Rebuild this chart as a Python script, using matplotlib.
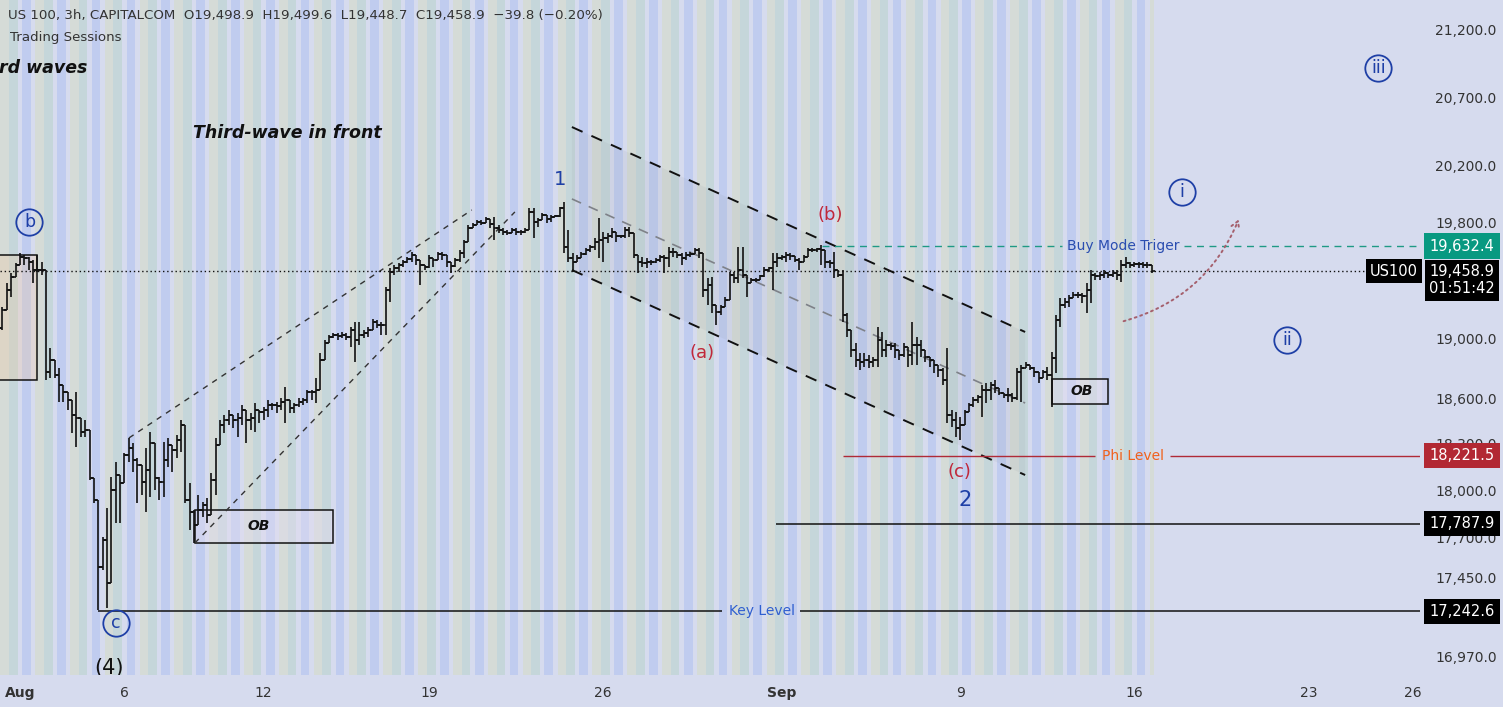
import numpy as np
import matplotlib.pyplot as plt
from matplotlib.patches import Rectangle, Polygon
from matplotlib.ticker import NullLocator

plt.rcParams['font.family'] = ['DejaVu Sans']

# --- US100 3h bars ---
highs = [19137, 19212, 19376, 19445, 19515, 19584, 19570, 19556, 19536, 19570,
         19522, 19103, 18934, 18853, 18800, 18686, 18640, 18587, 18640, 18468,
         18455, 18273, 18079, 17938, 17704, 17887, 18085, 18182, 18066, 18240,
         18338, 18305, 18207, 18150, 18273, 18377, 18279, 18085, 18312, 18338,
         18279, 18357, 18455, 18423, 18047, 17874, 17970, 17925, 17951, 18111,
         18338, 18455, 18488, 18521, 18468, 18501, 18554, 18488, 18501, 18567,
         18521, 18541, 18587, 18567, 18574, 18600, 18673, 18587, 18567, 18600,
         18600, 18653, 18653, 18733, 18900, 18988, 19022, 19035, 19035, 19042,
         19035, 19076, 19110, 19110, 19055, 19076, 19130, 19123, 19110, 19349,
         19480, 19501, 19515, 19536, 19556, 19591, 19570, 19536, 19501, 19570,
         19549, 19591, 19591, 19556, 19515, 19549, 19605, 19675, 19780, 19794,
         19815, 19815, 19837, 19815, 19837, 19780, 19759, 19745, 19759, 19759,
         19745, 19759, 19901, 19901, 19830, 19865, 19837, 19851, 19851, 19908,
         19943, 19745, 19584, 19570, 19591, 19619, 19640, 19689, 19830, 19731,
         19724, 19759, 19731, 19710, 19766, 19766, 19724, 19570, 19556, 19549,
         19536, 19549, 19570, 19570, 19626, 19619, 19591, 19584, 19591, 19591,
         19619, 19619, 19584, 19411, 19418, 19226, 19226, 19280, 19452, 19452,
         19626, 19626, 19411, 19411, 19411, 19432, 19487, 19487, 19584, 19584,
         19570, 19591, 19584, 19556, 19549, 19570, 19619, 19619, 19619, 19640,
         19556, 19536, 19591, 19466, 19466, 19171, 19035, 18968, 18900, 18900,
         18887, 18873, 19076, 19042, 18988, 18968, 18968, 18920, 18968, 18934,
         19110, 19008, 18988, 18900, 18873, 18853, 18820, 18800, 18934, 18521,
         18508, 18475, 18521, 18567, 18607, 18620, 18686, 18700, 18706, 18720,
         18666, 18633, 18666, 18633, 18800, 18820, 18840, 18820, 18806, 18766,
         18786, 18806, 18907, 19157, 19274, 19274, 19294, 19315, 19315, 19308,
         19376, 19466, 19445, 19452, 19466, 19452, 19466, 19466, 19536, 19556,
         19522, 19522, 19522, 19522, 19522, 19499.6]
lows = [19022, 19055, 19212, 19280, 19432, 19501, 19501, 19466, 19376, 19452,
        19432, 18720, 18733, 18733, 18574, 18574, 18521, 18370, 18279, 18344,
        18344, 18066, 17919, 17250, 17497, 17262, 17416, 17792, 17792, 18066,
        18182, 18117, 17919, 17970, 17862, 17957, 18002, 17938, 17957, 18150,
        18117, 18207, 18247, 17919, 17748, 17666, 17792, 17830, 17792, 17843,
        17970, 18305, 18370, 18423, 18403, 18344, 18423, 18305, 18390, 18377,
        18436, 18455, 18475, 18521, 18501, 18521, 18436, 18501, 18501, 18541,
        18554, 18567, 18587, 18567, 18720, 18887, 18988, 19001, 18988, 19001,
        18988, 18941, 18840, 18954, 19001, 19008, 19055, 19069, 19022, 19022,
        19246, 19432, 19452, 19487, 19515, 19522, 19501, 19363, 19466, 19480,
        19487, 19549, 19536, 19487, 19445, 19487, 19522, 19549, 19675, 19759,
        19780, 19780, 19801, 19759, 19675, 19724, 19710, 19710, 19724, 19710,
        19710, 19724, 19745, 19689, 19766, 19815, 19794, 19801, 19837, 19837,
        19584, 19522, 19452, 19522, 19549, 19570, 19591, 19605, 19549, 19522,
        19654, 19689, 19661, 19689, 19689, 19696, 19549, 19445, 19487, 19480,
        19501, 19515, 19522, 19445, 19487, 19556, 19549, 19501, 19536, 19556,
        19584, 19549, 19280, 19226, 19171, 19089, 19157, 19212, 19280, 19376,
        19376, 19411, 19280, 19376, 19383, 19397, 19418, 19452, 19328, 19487,
        19536, 19522, 19536, 19522, 19466, 19536, 19556, 19591, 19591, 19501,
        19480, 19480, 19411, 19418, 19110, 19008, 18873, 18806, 18786, 18806,
        18800, 18806, 18806, 18873, 18873, 18920, 18867, 18853, 18873, 18806,
        18820, 18820, 18873, 18840, 18806, 18766, 18740, 18686, 18436, 18410,
        18344, 18325, 18455, 18521, 18541, 18567, 18475, 18567, 18587, 18633,
        18620, 18600, 18574, 18574, 18587, 18574, 18800, 18786, 18740, 18700,
        18740, 18720, 18541, 18766, 19076, 19205, 19212, 19280, 19274, 19240,
        19171, 19240, 19397, 19397, 19411, 19411, 19418, 19397, 19383, 19480,
        19480, 19487, 19480, 19480, 19480, 19448.7]
closes = [19069, 19191, 19328, 19418, 19501, 19556, 19549, 19522, 19466, 19466,
          19466, 18773, 18853, 18753, 18686, 18640, 18587, 18488, 18468, 18377,
          18390, 18079, 17938, 17516, 17685, 17416, 18002, 18098, 18047, 18227,
          18273, 18195, 18163, 18053, 18130, 18305, 18079, 18053, 18195, 18292,
          18260, 18325, 18423, 17938, 17862, 17779, 17874, 17906, 17843, 18066,
          18292, 18423, 18455, 18488, 18455, 18468, 18521, 18455, 18468, 18521,
          18508, 18521, 18554, 18554, 18548, 18574, 18587, 18534, 18554, 18574,
          18587, 18640, 18640, 18653, 18853, 18968, 19008, 19022, 19015, 19022,
          19008, 19055, 18988, 19022, 19035, 19055, 19110, 19089, 19089, 19328,
          19452, 19480, 19501, 19522, 19542, 19570, 19536, 19501, 19487, 19549,
          19536, 19577, 19570, 19522, 19494, 19536, 19584, 19661, 19759, 19780,
          19801, 19794, 19823, 19787, 19759, 19745, 19731, 19724, 19745, 19731,
          19731, 19745, 19872, 19801, 19815, 19851, 19823, 19837, 19844, 19901,
          19626, 19549, 19522, 19549, 19577, 19605, 19626, 19661, 19675, 19689,
          19703, 19731, 19703, 19703, 19745, 19724, 19570, 19522, 19515, 19522,
          19522, 19536, 19556, 19549, 19591, 19591, 19570, 19549, 19570, 19577,
          19605, 19584, 19328, 19363, 19226, 19178, 19212, 19260, 19432, 19411,
          19466, 19432, 19376, 19397, 19397, 19425, 19466, 19480, 19522, 19549,
          19556, 19570, 19563, 19536, 19522, 19556, 19605, 19605, 19612, 19605,
          19522, 19515, 19466, 19432, 19157, 19055, 18920, 18853, 18840, 18853,
          18840, 18853, 18988, 18920, 18954, 18948, 18920, 18887, 18941, 18887,
          18954, 18954, 18920, 18873, 18853, 18820, 18786, 18720, 18488, 18455,
          18403, 18423, 18508, 18554, 18587, 18607, 18653, 18653, 18686, 18666,
          18633, 18620, 18620, 18600, 18773, 18800, 18820, 18800, 18773, 18733,
          18773, 18753, 18867, 19123, 19226, 19246, 19274, 19294, 19294, 19287,
          19328, 19432, 19425, 19432, 19445, 19432, 19445, 19432, 19501, 19515,
          19501, 19508, 19508, 19501, 19498.9, 19458.9]
first_open = 19130
opens = [first_open] + closes[:-1]

bars = np.arange(len(closes))
highs = np.array(highs)
lows = np.array(lows)
closes = np.array(closes)
opens = np.array(opens)

# levels
last_price = 19458.9
buy_trigger = 19632.4
phi_level = 18221.5
mid_level = 17787.9
key_level = 17242.6

ytick_vals = [21200, 20700, 20200, 19800, 19000, 18600, 18300, 18000, 17700, 17450, 16970]
xtick_pos = [5, 29, 61, 99, 139, 180, 221, 261, 301, 325]
xtick_lab = ['Aug', '6', '12', '19', '26', 'Sep', '9', '16', '23', '26']

# session colours per bar of the day (8 bars of 3h)
sess_cols = {1: '#d5dbd7', 2: '#d5dbd7', 3: '#c5d6da', 4: '#c5d6da',
             6: '#c0ccef', 7: '#c0ccef'}

bg = '#d6dbee'
blue = '#1e3fa6'
red = '#c0283a'

fig = plt.figure(figsize=(15.03, 7.07), dpi=100)
fig.patch.set_facecolor(bg)
ax = fig.add_axes([0, 32 / 707, 1420 / 1503, 675 / 707])
ax.set_facecolor(bg)
ax.set_yscale('log')
xmin, xmax = 0.436, 326.6
ax.set_xlim(xmin, xmax)
ax.set_ylim(16856, 21427)
for s in ax.spines.values():
    s.set_visible(False)

# session stripes
n = len(bars)
run_start, run_col = 0, None
for i in range(n + 1):
    c = sess_cols.get(i % 8) if i < n else None
    if c != run_col:
        if run_col is not None:
            ax.axvspan(run_start - 0.5, i - 0.5, color=run_col, lw=0, zorder=0)
        run_start, run_col = i, c

# boxes
ax.add_patch(Rectangle((-1, 18720), 9.9, 19570 - 18720, fc='#f3c99a', alpha=0.28,
                       ec='none', zorder=1))
ax.add_patch(Rectangle((-1, 18720), 9.9, 19570 - 18720, fc='none', ec='#111', lw=1.1, zorder=2))
for (x0, y0, x1, y1, tx, ty) in [(45.2, 17666, 76.9, 17874, 59.8, 17772),
                                  (242.1, 18561, 254.9, 18726, 248.8, 18645)]:
    ax.add_patch(Rectangle((x0, y0), x1 - x0, y1 - y0, fc='#e2dcef', alpha=0.45,
                           ec='none', zorder=1))
    ax.add_patch(Rectangle((x0, y0), x1 - x0, y1 - y0, fc='none', ec='#111', lw=1.1, zorder=2))
    ax.text(tx, ty, 'OB', ha='center', va='center', fontsize=10, fontweight='bold',
            style='italic', color='#111', zorder=4)

# rising channel
ax.plot([30.06, 108.8], [18338, 19886], color='#333', lw=1, ls=(0, (4, 4)), zorder=2)
ax.plot([45.2, 118.7], [17666, 19872], color='#333', lw=1, ls=(0, (4, 4)), zorder=2)

# falling channel
ax.add_patch(Polygon([(131.8, 20481), (235.9, 19042), (235.9, 18098), (131.8, 19466)],
                     closed=True, fc='#8e929c', alpha=0.10, ec='none', zorder=1))
ax.plot([131.8, 235.9], [20481, 19042], color='#111', lw=1.4, ls=(0, (6, 5)), zorder=2)
ax.plot([131.8, 235.9], [19466, 18098], color='#111', lw=1.4, ls=(0, (6, 5)), zorder=2)
ax.plot([131.8, 235.9], [19964, 18567], color='#7e8188', lw=1.2, ls=(0, (6, 5)), zorder=2)

# horizontal levels
ax.axhline(last_price, color='#111', lw=1, ls=(0, (1, 2)), zorder=2)
ax.hlines([buy_trigger] * 2, [189.2, 272.4], [244.3, xmax], color='#1f9a85', lw=1,
          ls=(0, (5, 4)), zorder=2)
ax.text(258.4, buy_trigger, 'Buy Mode Triger', ha='center', va='center', fontsize=10,
        color='#2a4db0', zorder=4)
ax.hlines([phi_level] * 2, [194.1, 269.1], [251.9, xmax], color='#b02a37', lw=1, zorder=2)
ax.text(260.7, phi_level, 'Phi Level', ha='center', va='center', fontsize=10,
        color='#f0621c', zorder=4)
ax.hlines(mid_level, 178.7, xmax, color='#111', lw=1.1, zorder=2)
ax.hlines([key_level] * 2, [23.0, 184.2], [166.3, xmax], color='#111', lw=1.1, zorder=2)
ax.text(175.4, key_level, 'Key Level', ha='center', va='center', fontsize=10,
        color='#2f5fd0', zorder=4)

# OHLC bars
tick = 0.75
ax.vlines(bars, np.minimum(lows, opens), np.maximum(highs, opens), color='#111', lw=1.2, zorder=3)
ax.hlines(opens, bars - tick, bars, color='#111', lw=1.2, zorder=3)
ax.hlines(closes, bars, bars + tick, color='#111', lw=1.2, zorder=3)

# wave labels
for lab, x, y in [('b', 7.2, 19803), ('c', 27.1, 17170), ('i', 272, 20016),
                  ('ii', 296.1, 18988), ('iii', 317, 20918)]:
    ax.plot(x, y, marker='o', ms=19, mfc='none', mec=blue, mew=1.3, zorder=4, clip_on=False)
    ax.text(x, y, lab, ha='center', va='center', fontsize=12.5, color=blue, zorder=4)
ax.text(129.1, 20099, '1', ha='center', va='center', fontsize=14, color=blue, zorder=4)
ax.text(222.1, 17938, '2', ha='center', va='center', fontsize=15, color=blue, zorder=4)
ax.text(25.5, 16900, '(4)', ha='center', va='center', fontsize=15, color='#111', zorder=4,
        clip_on=True)
for lab, x, y in [('(a)', 161.8, 18902), ('(b)', 191.1, 19851), ('(c)', 220.9, 18119)]:
    ax.text(x, y, lab, ha='center', va='center', fontsize=13, color=red, zorder=4)

ax.text(0.1, 20918, 'rd waves', ha='left', va='center', fontsize=12.5, fontweight='bold',
        style='italic', color='#111', zorder=4)
ax.text(44.8, 20438, 'Third-wave in front', ha='left', va='center', fontsize=12.5,
        fontweight='bold', style='italic', color='#111', zorder=4)

# projected path
ax.annotate('', xy=(285.2, 19837), xytext=(257.9, 19110),
            arrowprops=dict(arrowstyle='->,head_length=0.5,head_width=0.3', color='#a5606d',
                            lw=1.4, ls=(0, (1, 2)), connectionstyle='arc3,rad=0.25'),
            zorder=4)

# axes ticks
ax.yaxis.tick_right()
ax.set_yticks(ytick_vals)
ax.set_yticklabels([f'{v:,.1f}' for v in ytick_vals])
ax.yaxis.set_minor_locator(NullLocator())
ax.tick_params(axis='y', length=0, pad=11, labelsize=10, labelcolor='#333')
ax.set_xticks(xtick_pos)
ax.set_xticklabels(xtick_lab)
ax.tick_params(axis='x', length=0, pad=8, labelsize=10, labelcolor='#333')
for t in ax.get_xticklabels():
    if t.get_text() in ('Aug', 'Sep'):
        t.set_fontweight('bold')

# price tags on the scale
ytr = ax.get_yaxis_transform()
tag_x = 1462 / 1420
for val, fc in [(buy_trigger, '#089981'), (phi_level, '#b22833'),
                (mid_level, '#000000'), (key_level, '#000000')]:
    ax.text(tag_x, val, f'{val:,.1f}', transform=ytr, ha='center', va='center',
            fontsize=10.5, color='white', zorder=5, clip_on=False,
            bbox=dict(boxstyle='square,pad=0.35', fc=fc, ec='none'))
ax.annotate(f'{last_price:,.1f}\n01:51:42', xy=(tag_x, last_price), xycoords=ytr,
            xytext=(0, 7), textcoords='offset pixels', ha='center', va='top',
            fontsize=10.5, color='white', linespacing=1.2, zorder=5, annotation_clip=False,
            bbox=dict(boxstyle='square,pad=0.3', fc='#000000', ec='none'))
ax.text(1418 / 1420, last_price, 'US100', transform=ytr, ha='right', va='center',
        fontsize=10.5, color='white', zorder=5, clip_on=False,
        bbox=dict(boxstyle='square,pad=0.3', fc='#000000', ec='none'))

# header
fig.text(8 / 1503, 1 - 15 / 707,
         'US 100, 3h, CAPITALCOM  O19,498.9  H19,499.6  L19,448.7  C19,458.9  \u221239.8 (\u22120.20%)',
         fontsize=9.6, color='#333', va='center', ha='left')
fig.text(10 / 1503, 1 - 37 / 707, 'Trading Sessions', fontsize=9.6, color='#333',
         va='center', ha='left')

fig.savefig('out.png', dpi=100, facecolor=bg)
